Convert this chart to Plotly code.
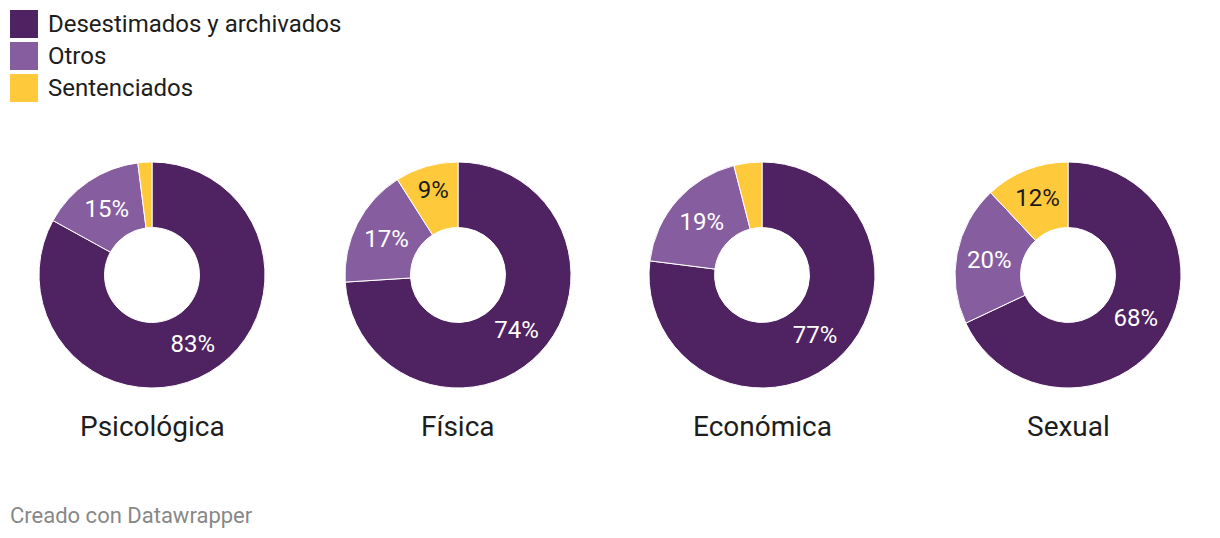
import plotly.graph_objects as go

categories = ["Desestimados y archivados", "Otros", "Sentenciados"]
groups = ["Psicológica", "Física", "Económica", "Sexual"]
desestimados = [83, 74, 77, 68]
otros = [15, 17, 19, 20]
sentenciados = [2, 9, 4, 12]

colors = ["#4f2262", "#865ea0", "#ffc93c"]
W, H = 1220, 538
centers_x = [152, 458, 762, 1068]
cy = 275
R = 113

fig = go.Figure()
for i, g in enumerate(groups):
    vals = [desestimados[i], otros[i], sentenciados[i]]
    texts = [f"{v}%" if v >= 5 else "" for v in vals]
    cx = centers_x[i]
    fig.add_trace(go.Pie(
        labels=categories, values=vals, text=texts, textinfo="text",
        textposition="inside", insidetextorientation="horizontal",
        insidetextfont=dict(family="Roboto", size=24, color=["#ffffff", "#ffffff", "#1a1a1a"]),
        hole=0.42, sort=False, direction="clockwise", rotation=0,
        marker=dict(colors=colors, line=dict(color="#ffffff", width=1)),
        domain=dict(x=[(cx - R) / W, (cx + R) / W], y=[1 - (cy + R) / H, 1 - (cy - R) / H]),
        showlegend=False, hoverinfo="label+value", name=g,
    ))
    fig.add_annotation(x=cx / W, y=1 - 427 / H, xref="paper", yref="paper", text=g,
                       showarrow=False, xanchor="center", yanchor="middle",
                       font=dict(family="Roboto", size=28, color="#1d1d1d"))

# manual legend
for j, c in enumerate(categories):
    y0 = 10 + j * 32
    fig.add_shape(type="rect", xref="paper", yref="paper",
                  x0=10 / W, x1=38 / W, y0=1 - (y0 + 28) / H, y1=1 - y0 / H,
                  fillcolor=colors[j], line=dict(width=0))
    fig.add_annotation(x=46 / W, y=1 - (y0 + 14) / H, xref="paper", yref="paper", text=c,
                       showarrow=False, xanchor="left", yanchor="middle",
                       font=dict(family="Roboto", size=24, color="#1d1d1d"))

fig.add_annotation(x=8 / W, y=1 - 515 / H, xref="paper", yref="paper", text="Creado con Datawrapper",
                   showarrow=False, xanchor="left", yanchor="middle",
                   font=dict(family="Roboto", size=22, color="#888888"))

fig.update_layout(width=W, height=H, margin=dict(l=0, r=0, t=0, b=0),
                  paper_bgcolor="#ffffff", plot_bgcolor="#ffffff",
                  font=dict(family="Roboto"))
fig.write_html("out.html")
